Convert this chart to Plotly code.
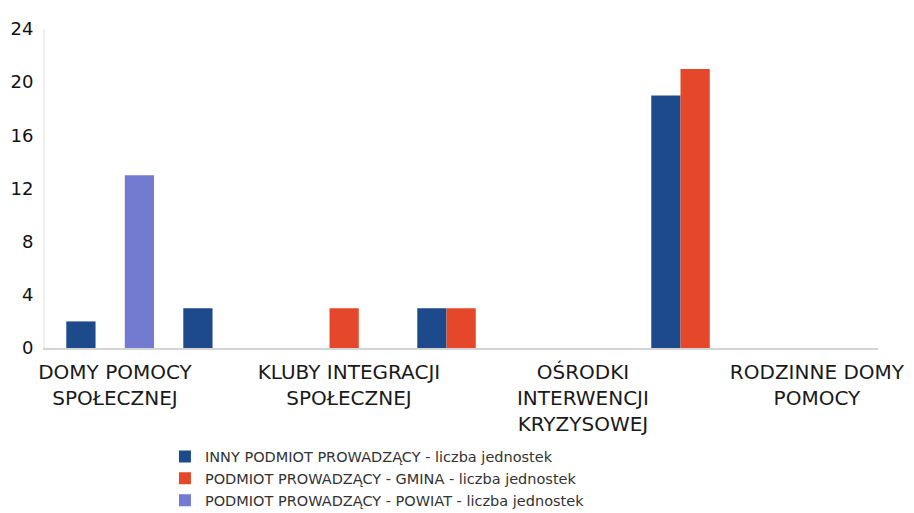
import plotly.graph_objects as go

categories = [
    "DOMY POMOCY<br>SPOŁECZNEJ",
    "KLUBY INTEGRACJI<br>SPOŁECZNEJ",
    "OŚRODKI<br>INTERWENCJI<br>KRYZYSOWEJ",
    "RODZINNE DOMY<br>POMOCY",
]
series_names = [
    "INNY PODMIOT PROWADZĄCY - liczba jednostek",
    "PODMIOT PROWADZĄCY - GMINA - liczba jednostek",
    "PODMIOT PROWADZĄCY - POWIAT - liczba jednostek",
]
# six drawn series (two sets); only the first three are listed in the legend
inny_a = [2, None, None, None]
gmina_a = [None, 3, None, None]
powiat_a = [13, None, None, None]
powiat_b = [None, None, None, None]
inny_b = [3, 3, 19, None]
gmina_b = [None, 3, 21, None]
y_ticks = [0, 4, 8, 12, 16, 20, 24]

colors = {"inny": "#1d4a8a", "gmina": "#e5472a", "powiat": "#727bcf"}

xs = list(range(len(categories)))
traces = [
    (series_names[0], inny_a, colors["inny"], True, "inny"),
    (series_names[1], gmina_a, colors["gmina"], True, "gmina"),
    (series_names[2], powiat_a, colors["powiat"], True, "powiat"),
    (series_names[2], powiat_b, colors["powiat"], False, "powiat"),
    (series_names[0], inny_b, colors["inny"], False, "inny"),
    (series_names[1], gmina_b, colors["gmina"], False, "gmina"),
]

fig = go.Figure()
for name, vals, col, show, grp in traces:
    fig.add_trace(go.Bar(
        x=xs, y=vals, name=name, marker_color=col, marker_line_width=0,
        showlegend=show, legendgroup=grp,
    ))

label_shift = -0.167
fig.update_layout(
    width=914, height=513,
    margin=dict(l=37, r=44, t=21, b=173, autoexpand=False),
    paper_bgcolor="white", plot_bgcolor="white",
    barmode="group", bargap=0.25, bargroupgap=0,
    font=dict(family="DejaVu Sans", color="#222222"),
    xaxis=dict(
        range=[-0.466, 3.094],
        tickvals=[i + label_shift for i in xs], ticktext=categories,
        tickfont=dict(size=20, color="#1a1a1a"),
        ticklabelstandoff=5,
        showline=True, linecolor="#d4d4d4", linewidth=2,
        showgrid=False, zeroline=False, ticks="",
    ),
    yaxis=dict(
        range=[0, 24], tickvals=y_ticks,
        tickfont=dict(size=18, color="#111111"),
        ticklabelstandoff=6,
        showline=True, linecolor="#f0f0f0", linewidth=2,
        showgrid=False, zeroline=False, ticks="",
    ),
    legend=dict(
        x=0.144, xanchor="left", y=-0.29, yanchor="top",
        font=dict(size=14.5, color="#333333"),
        tracegroupgap=0, itemwidth=30,
    ),
)

fig.write_html("out.html")
